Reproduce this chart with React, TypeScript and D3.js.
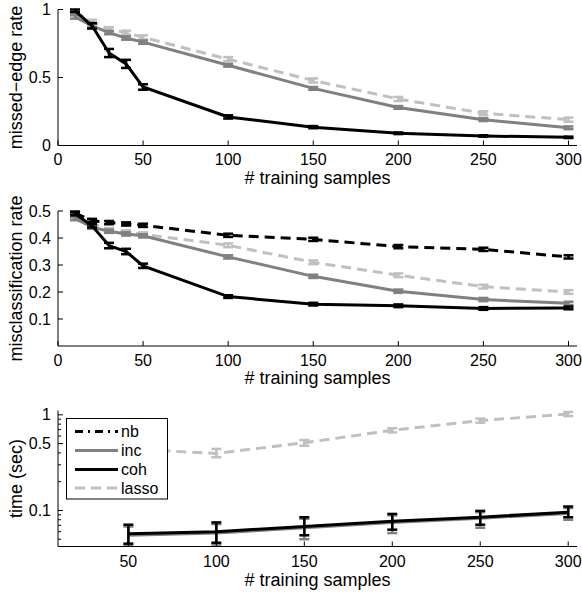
import React from "react";
import * as d3 from "d3";

const samples = [10, 20, 30, 40, 50, 100, 150, 200, 250, 300];
const timeSamples = [50, 100, 150, 200, 250, 300];

// Panel 1: missed-edge rate
const edgeCoh = [0.99, 0.88, 0.68, 0.6, 0.43, 0.21, 0.135, 0.09, 0.07, 0.06];
const edgeCohErr = [0.01, 0.02, 0.03, 0.03, 0.02, 0.012, 0.008, 0.006, 0.005, 0.005];
const edgeInc = [0.945, 0.88, 0.83, 0.79, 0.76, 0.59, 0.42, 0.28, 0.19, 0.13];
const edgeIncErr = [0.012, 0.012, 0.012, 0.012, 0.012, 0.01, 0.01, 0.01, 0.01, 0.01];
const edgeLasso = [0.98, 0.91, 0.855, 0.83, 0.795, 0.635, 0.478, 0.342, 0.237, 0.19];
const edgeLassoErr = [0.015, 0.015, 0.015, 0.015, 0.015, 0.015, 0.015, 0.015, 0.015, 0.015];

// Panel 2: misclassification rate
const misNb = [0.492, 0.465, 0.457, 0.452, 0.447, 0.41, 0.395, 0.368, 0.358, 0.33];
const misNbErr = [0.006, 0.006, 0.006, 0.006, 0.006, 0.006, 0.006, 0.006, 0.006, 0.006];
const misCoh = [0.49, 0.445, 0.372, 0.35, 0.297, 0.183, 0.155, 0.149, 0.139, 0.141];
const misCohErr = [0.006, 0.006, 0.01, 0.01, 0.008, 0.005, 0.005, 0.005, 0.005, 0.005];
const misInc = [0.472, 0.44, 0.425, 0.415, 0.408, 0.33, 0.258, 0.203, 0.172, 0.158];
const misIncErr = [0.006, 0.006, 0.006, 0.006, 0.006, 0.006, 0.006, 0.006, 0.006, 0.006];
const misLasso = [0.482, 0.455, 0.43, 0.422, 0.414, 0.373, 0.31, 0.262, 0.22, 0.2];
const misLassoErr = [0.007, 0.007, 0.007, 0.007, 0.007, 0.007, 0.007, 0.007, 0.007, 0.007];

// Panel 3: time (sec), log scale
const timeCoh = [0.057, 0.06, 0.068, 0.077, 0.085, 0.096];
const timeCohLo = [0.045, 0.046, 0.055, 0.063, 0.071, 0.085];
const timeCohHi = [0.071, 0.075, 0.085, 0.092, 0.099, 0.11];
const timeInc = [0.055, 0.058, 0.066, 0.075, 0.083, 0.093];
const timeIncLo = [0.043, 0.044, 0.05, 0.058, 0.066, 0.08];
const timeIncHi = [0.068, 0.072, 0.082, 0.089, 0.096, 0.106];
const timeLasso = [0.44, 0.395, 0.51, 0.69, 0.87, 1.02];
const timeLassoLo = [0.41, 0.36, 0.475, 0.655, 0.825, 0.97];
const timeLassoHi = [0.47, 0.44, 0.545, 0.725, 0.915, 1.07];

const xTicksLin = [0, 50, 100, 150, 200, 250, 300];
const xTicksTime = [50, 100, 150, 200, 250, 300];
const yTicksEdge = [0, 0.5, 1];
const yTicksMis = [0.1, 0.2, 0.3, 0.4, 0.5];
const yTicksTime = [0.1, 0.5, 1];
const yMinorTime = [0.05, 0.06, 0.07, 0.08, 0.09, 0.2, 0.3, 0.4, 0.6, 0.7, 0.8, 0.9];

const legendNames = ["nb", "inc", "coh", "lasso"];

const FONT = "'Liberation Sans', Arial, Helvetica, sans-serif";
const C_BLACK = "#000000";
const C_INC = "#808080";
const C_LASSO = "#c0c0c0";

type Series = {
  ys: number[];
  lo: number[];
  hi: number[];
  color: string;
  dash?: string;
};

function Panel(props: {
  xs: number[];
  x: any;
  y: any;
  series: Series[];
  xTicks: number[];
  yTicks: number[];
  yTickFmt: (v: number) => string;
  yMinor?: number[];
  xLabel: string;
  yLabel: string;
  tickBase: number;
  xLabelBase: number;
}) {
  const { xs, x, y, series, xTicks, yTicks, yTickFmt, yMinor, xLabel, yLabel } = props;
  const [x0, x1] = x.range();
  const [yb, yt] = y.range();
  const line = d3
    .line<number>()
    .x((_, i) => x(xs[i]))
    .y((d) => y(d));
  const capW = 5;
  return (
    <g>
      {series.map((s, si) => (
        <g key={si}>
          <path
            d={line(s.ys) || ""}
            fill="none"
            stroke={s.color}
            strokeWidth={3}
            strokeDasharray={s.dash}
          />
          {s.ys.map((_, i) => {
            const cx = x(xs[i]);
            const ylo = y(s.lo[i]);
            const yhi = y(s.hi[i]);
            return (
              <g key={i} stroke={s.color} strokeWidth={2.5} fill="none">
                <line x1={cx} x2={cx} y1={ylo} y2={yhi} />
                <line x1={cx - capW} x2={cx + capW} y1={ylo} y2={ylo} />
                <line x1={cx - capW} x2={cx + capW} y1={yhi} y2={yhi} />
              </g>
            );
          })}
        </g>
      ))}
      <line x1={x0} x2={x1} y1={yb} y2={yb} stroke="#000" strokeWidth={1} />
      <line x1={x0} x2={x0} y1={yb} y2={yt} stroke="#000" strokeWidth={1} />
      {xTicks.map((t) => (
        <g key={"xt" + t}>
          <line x1={x(t)} x2={x(t)} y1={yb} y2={yb - 5} stroke="#000" strokeWidth={1} />
          <text x={x(t)} y={props.tickBase} textAnchor="middle" fontSize={16} fontFamily={FONT}>
            {t}
          </text>
        </g>
      ))}
      {yTicks.map((t) => (
        <g key={"yt" + t}>
          <line x1={x0} x2={x0 + 5} y1={y(t)} y2={y(t)} stroke="#000" strokeWidth={1} />
          <text
            x={x0 - 7}
            y={y(t)}
            dy="0.35em"
            textAnchor="end"
            fontSize={16}
            fontFamily={FONT}
          >
            {yTickFmt(t)}
          </text>
        </g>
      ))}
      {(yMinor || []).map((t) => (
        <line key={"ym" + t} x1={x0} x2={x0 + 3} y1={y(t)} y2={y(t)} stroke="#000" strokeWidth={1} />
      ))}
      <text x={(x0 + x1) / 2} y={props.xLabelBase} textAnchor="middle" fontSize={18} fontFamily={FONT}>
        {xLabel}
      </text>
      <text
        transform={`translate(22,${(yb + yt) / 2}) rotate(-90)`}
        textAnchor="middle"
        fontSize={18}
        fontFamily={FONT}
      >
        {yLabel}
      </text>
    </g>
  );
}

function errs(ys: number[], e: number[]) {
  return { lo: ys.map((v, i) => v - e[i]), hi: ys.map((v, i) => v + e[i]) };
}

export default function App() {
  const left = 58;
  const right = 577;
  const xLin = d3.scaleLinear().domain([0, 305]).range([left, right]);
  const xTime = d3.scaleLinear().domain([10, 305]).range([left, right]);

  const yEdge = d3.scaleLinear().domain([0, 1]).range([145.5, 9.5]);
  const yMis = d3.scaleLinear().domain([0, 0.5]).range([346, 211]);
  const yTime = d3.scaleLog().domain([0.042, 1.11]).range([546.5, 410.5]);

  const fmtLin = (v: number) => (v === 0 ? "0" : v === 1 ? "1" : String(v));

  const edgeSeries: Series[] = [
    { ys: edgeLasso, ...errs(edgeLasso, edgeLassoErr), color: C_LASSO, dash: "10,6" },
    { ys: edgeInc, ...errs(edgeInc, edgeIncErr), color: C_INC },
    { ys: edgeCoh, ...errs(edgeCoh, edgeCohErr), color: C_BLACK },
  ];
  const misSeries: Series[] = [
    { ys: misLasso, ...errs(misLasso, misLassoErr), color: C_LASSO, dash: "10,6" },
    { ys: misInc, ...errs(misInc, misIncErr), color: C_INC },
    { ys: misNb, ...errs(misNb, misNbErr), color: C_BLACK, dash: "10,6" },
    { ys: misCoh, ...errs(misCoh, misCohErr), color: C_BLACK },
  ];
  const timeSeries: Series[] = [
    { ys: timeLasso, lo: timeLassoLo, hi: timeLassoHi, color: C_LASSO, dash: "10,6" },
    { ys: timeInc, lo: timeIncLo, hi: timeIncHi, color: C_INC },
    { ys: timeCoh, lo: timeCohLo, hi: timeCohHi, color: C_BLACK },
  ];

  const legendStyles = [
    { color: C_BLACK, dash: "8,5,2,5" },
    { color: C_INC, dash: undefined },
    { color: C_BLACK, dash: undefined },
    { color: C_LASSO, dash: "10,6" },
  ];
  const legY = [431.5, 450.5, 469.5, 488];

  return (
    <svg width={582} height={594} style={{ position: "absolute", left: 0, top: 0, background: "#fff" }}>
      <rect x={0} y={0} width={582} height={594} fill="#fff" />
      <Panel
        xs={samples}
        x={xLin}
        y={yEdge}
        series={edgeSeries}
        xTicks={xTicksLin}
        yTicks={yTicksEdge}
        yTickFmt={fmtLin}
        xLabel="# training samples"
        yLabel="missed−edge rate"
        tickBase={165}
        xLabelBase={184}
      />
      <Panel
        xs={samples}
        x={xLin}
        y={yMis}
        series={misSeries}
        xTicks={xTicksLin}
        yTicks={yTicksMis}
        yTickFmt={(v) => v.toFixed(1)}
        xLabel="# training samples"
        yLabel="misclassification rate"
        tickBase={366}
        xLabelBase={384}
      />
      <Panel
        xs={timeSamples}
        x={xTime}
        y={yTime}
        series={timeSeries}
        xTicks={xTicksTime}
        yTicks={yTicksTime}
        yTickFmt={(v) => (v === 1 ? "1" : String(v))}
        yMinor={yMinorTime}
        xLabel="# training samples"
        yLabel="time (sec)"
        tickBase={566.5}
        xLabelBase={586}
      />
      <g>
        <rect x={66.5} y={418.5} width={101} height={80.5} fill="#fff" stroke="#000" strokeWidth={1} />
        {legendNames.map((n, i) => (
          <g key={n}>
            <line
              x1={75}
              x2={118}
              y1={legY[i]}
              y2={legY[i]}
              stroke={legendStyles[i].color}
              strokeWidth={3}
              strokeDasharray={legendStyles[i].dash}
            />
            <text x={121} y={legY[i]} dy="0.35em" fontSize={16} fontFamily={FONT}>
              {n}
            </text>
          </g>
        ))}
      </g>
    </svg>
  );
}
